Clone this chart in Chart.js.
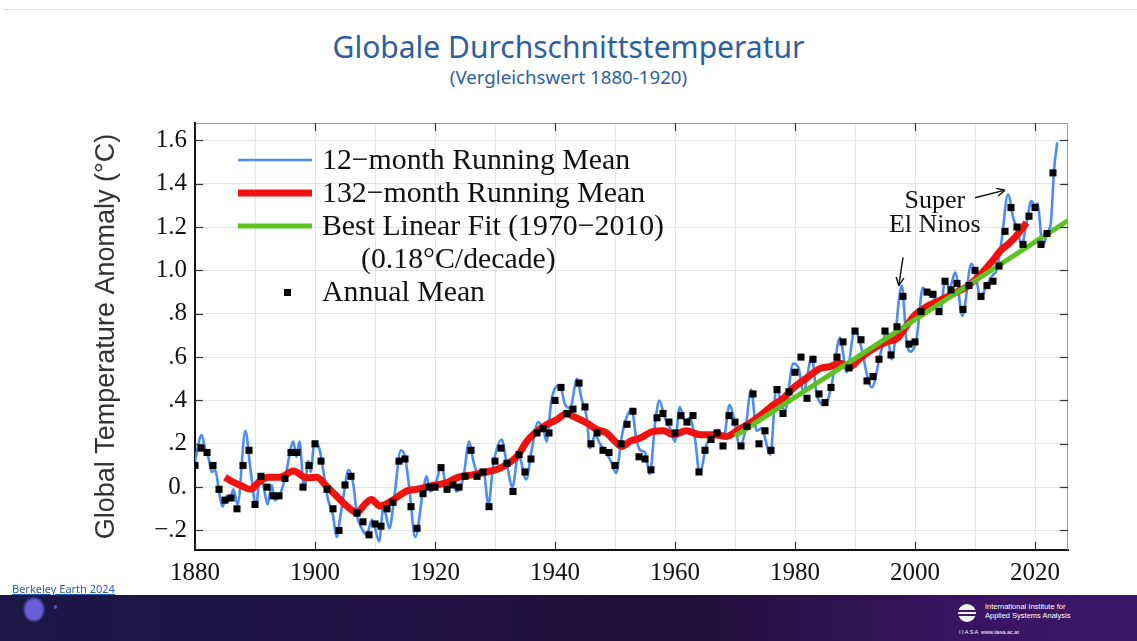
<!DOCTYPE html>
<html>
<head>
<meta charset="utf-8">
<script src="https://cdn.jsdelivr.net/npm/chart.js@4.4.1/dist/chart.umd.min.js"></script>
<style>
  html, body { margin: 0; padding: 0; width: 1137px; height: 641px; overflow: hidden; background: #fff; }
  .topline { position: absolute; left: 3px; right: 0; top: 9px; height: 1px; background: #dcdcdc; }
  .title { position: absolute; left: 0; width: 1137px; text-align: center; color: #2d5e9e; font-family: "Noto Sans", sans-serif; }
  #t1 { top: 27px; font-size: 30px; line-height: 40px; }
  #t2 { top: 65px; font-size: 18.7px; line-height: 24px; }
  #wrap { position: absolute; left: 0; top: 100px; width: 1137px; height: 495px; }
  .src { position: absolute; left: 12px; top: 581px; font-family: "Noto Sans", sans-serif; font-size: 11px; color: #2b5cb3; text-decoration: underline; }
  .band { position: absolute; left: 0; top: 595px; width: 1137px; height: 46px;
    background: linear-gradient(90deg, #1c1745 0%, #211343 35%, #1f1038 60%, #3a1462 85%, #3d1768 100%); overflow: hidden; }
  .dot1 { position: absolute; left: 24px; top: 3px; width: 20px; height: 23px; border-radius: 50%; background: #6a5fd8; filter: blur(1px); }
  .dot2 { position: absolute; left: 54px; top: 10px; width: 3px; height: 4px; border-radius: 50%; background: #5b59c8; }
  .logo { position: absolute; left: 958px; top: 7px; color: #fff; font-family: "Liberation Sans Narrow", "Liberation Sans", sans-serif; }
  .logo .ic { position: absolute; left: 0; top: 2px; width: 18px; height: 18px; border-radius: 50%; background: #f2f2f2; }
  .logo .ic i { position: absolute; left: 0; width: 18px; height: 2px; background: #3a1a60; }
  .logo .tx { position: absolute; left: 27px; top: 0; font-size: 7.5px; line-height: 9px; white-space: nowrap; }
  .logo .sm { position: absolute; left: 1px; top: 27px; font-size: 5.5px; white-space: nowrap; }
</style>
</head>
<body>
<div class="topline"></div>
<div class="title" id="t1">Globale Durchschnittstemperatur</div>
<div class="title" id="t2">(Vergleichswert 1880-1920)</div>
<div id="wrap"><canvas id="chart" width="1137" height="495"></canvas></div>
<div class="src">Berkeley Earth 2024</div>
<div class="band">
  <div class="dot1"></div><div class="dot2"></div>
  <div class="logo">
    <div class="ic"><i style="top:6px"></i><i style="top:10px"></i></div>
    <div class="tx">International Institute for<br>Applied Systems Analysis</div>
    <div class="sm">I I A S A &nbsp;www.iiasa.ac.at</div>
  </div>
</div>
<script>
// annual means, one per year starting 1880
const firstYear = 1880;
const annualMean = [
  0.10, 0.18, 0.16, 0.10, -0.01, -0.06, -0.05, -0.10, 0.10, 0.17,
  -0.08, 0.05, 0.00, -0.04, -0.04, 0.04, 0.16, 0.16, 0.00, 0.10,
  0.20, 0.12, -0.01, -0.10, -0.20, 0.01, 0.05, -0.12, -0.16, -0.22,
  -0.17, -0.18, -0.10, -0.07, 0.12, 0.13, -0.09, -0.19, -0.03, 0.00,
  0.00, 0.09, -0.01, 0.01, 0.00, 0.05, 0.17, 0.05, 0.07, -0.09,
  0.12, 0.18, 0.11, -0.02, 0.15, 0.07, 0.13, 0.25, 0.27, 0.25,
  0.40, 0.46, 0.34, 0.36, 0.48, 0.37, 0.20, 0.25, 0.17, 0.16,
  0.10, 0.20, 0.29, 0.35, 0.14, 0.13, 0.08, 0.32, 0.34, 0.30,
  0.25, 0.33, 0.30, 0.33, 0.07, 0.17, 0.22, 0.25, 0.19, 0.33,
  0.30, 0.19, 0.28, 0.43, 0.20, 0.26, 0.17, 0.45, 0.34, 0.44,
  0.53, 0.60, 0.41, 0.59, 0.43, 0.39, 0.46, 0.60, 0.67, 0.55,
  0.72, 0.68, 0.49, 0.51, 0.59, 0.72, 0.61, 0.74, 0.88, 0.66,
  0.67, 0.81, 0.90, 0.89, 0.81, 0.95, 0.91, 0.94, 0.82, 0.93,
  1.00, 0.88, 0.93, 0.95, 1.02, 1.18, 1.29, 1.20, 1.12, 1.25,
  1.29, 1.12, 1.17, 1.45
];

// 12-month running mean, read at its turning points
const mean12Years = [
  1880.0, 1881.1, 1881.8, 1882.2, 1882.8, 1883.3, 1884.2, 1884.6, 1885.3, 1885.8,
  1886.4, 1887.1, 1888.4, 1889.3, 1890.2, 1890.8, 1891.4, 1892.1, 1892.8, 1893.3,
  1894.2, 1895.0, 1896.4, 1896.9, 1897.4, 1898.2, 1898.9, 1899.3, 1899.9, 1900.8,
  1901.3, 1902.2, 1903.0, 1903.6, 1904.2, 1904.7, 1905.6, 1906.4, 1907.0, 1907.8,
  1908.6, 1909.5, 1910.7, 1911.4, 1912.4, 1913.2, 1914.3, 1915.0, 1915.7, 1916.7,
  1918.1, 1918.6, 1919.2, 1920.0, 1921.1, 1921.9, 1922.8, 1923.6, 1924.7, 1925.7,
  1926.4, 1927.2, 1928.1, 1928.9, 1929.7, 1931.1, 1931.9, 1932.9, 1933.9, 1935.2,
  1936.1, 1937.2, 1938.1, 1938.6, 1939.4, 1940.8, 1941.7, 1942.5, 1943.7, 1944.4,
  1945.3, 1945.8, 1946.7, 1947.5, 1948.3, 1949.3, 1950.2, 1951.1, 1951.9, 1952.8,
  1953.5, 1954.2, 1955.0, 1955.8, 1956.7, 1957.4, 1958.3, 1959.2, 1960.0, 1960.8,
  1961.7, 1962.4, 1963.3, 1964.1, 1965.3, 1966.3, 1967.2, 1968.1, 1969.1, 1969.8,
  1970.8, 1971.7, 1972.7, 1973.6, 1974.4, 1975.9, 1976.9, 1977.8, 1978.3, 1979.7,
  1980.6, 1981.4, 1982.8, 1983.6, 1985.0, 1986.1, 1987.5, 1988.6, 1990.0, 1990.8,
  1992.8, 1994.2, 1995.3, 1996.1, 1997.8, 1998.6, 1999.3, 2000.3, 2001.3, 2002.2,
  2003.3, 2004.2, 2005.0, 2005.8, 2006.7, 2007.9, 2009.4, 2010.3, 2010.9, 2011.9,
  2013.0, 2013.6, 2014.4, 2015.5, 2016.4, 2016.9, 2017.8, 2018.6, 2019.4, 2020.0,
  2020.4, 2021.3, 2022.1, 2022.6, 2023.2, 2023.7
];
const mean12 = [
  0.12, 0.24, 0.165, 0.14, 0.07, 0.08, -0.05, -0.09, -0.04, -0.06,
  -0.01, -0.08, 0.26, 0.07, -0.09, 0.06, 0.01, -0.08, 0.01, -0.06,
  -0.03, 0.04, 0.21, 0.14, 0.21, -0.01, 0.12, 0.07, 0.21, 0.17,
  0.09, -0.06, -0.13, -0.23, -0.14, -0.05, 0.08, 0.01, -0.13, -0.19,
  -0.22, -0.15, -0.25, -0.09, -0.19, -0.05, 0.17, 0.14, 0.00, -0.23,
  0.00, 0.05, -0.02, 0.005, 0.10, 0.00, 0.03, -0.02, 0.04, 0.21,
  0.12, 0.06, 0.07, -0.08, 0.10, 0.22, 0.12, 0.00, 0.15, 0.035,
  0.17, 0.30, 0.26, 0.21, 0.40, 0.47, 0.38, 0.365, 0.50, 0.41,
  0.32, 0.18, 0.24, 0.20, 0.17, 0.12, 0.065, 0.23, 0.32, 0.36,
  0.23, 0.17, 0.16, 0.06, 0.30, 0.40, 0.32, 0.27, 0.21, 0.37,
  0.30, 0.32, 0.23, 0.065, 0.20, 0.23, 0.265, 0.23, 0.38, 0.32,
  0.19, 0.26, 0.45, 0.26, 0.27, 0.15, 0.46, 0.38, 0.35, 0.57,
  0.55, 0.44, 0.60, 0.43, 0.38, 0.47, 0.69, 0.53, 0.73, 0.67,
  0.46, 0.61, 0.72, 0.59, 0.93, 0.67, 0.625, 0.69, 0.92, 0.89,
  0.87, 0.81, 0.95, 0.92, 0.99, 0.79, 1.03, 0.95, 0.87, 0.93,
  0.98, 1.00, 1.13, 1.35, 1.24, 1.20, 1.12, 1.22, 1.32, 1.30,
  1.31, 1.11, 1.18, 1.21, 1.47, 1.59
];

// 132-month running mean
const mean132Years = [
  1885.0, 1886.1, 1887.8, 1889.2, 1890.8, 1892.2, 1894.2, 1896.4, 1898.6, 1900.3,
  1901.9, 1903.6, 1905.3, 1907.0, 1908.3, 1909.4, 1910.8, 1913.1, 1915.3, 1916.9,
  1919.2, 1921.9, 1923.6, 1926.4, 1928.6, 1930.6, 1931.9, 1933.9, 1935.3, 1937.0,
  1938.6, 1940.3, 1941.8, 1943.6, 1945.3, 1947.0, 1948.6, 1950.0, 1951.1, 1952.5,
  1954.2, 1956.4, 1958.1, 1959.7, 1961.9, 1964.2, 1966.4, 1968.6, 1970.3, 1972.5,
  1974.2, 1976.4, 1978.1, 1979.7, 1981.9, 1984.2, 1985.8, 1987.5, 1989.2, 1990.8,
  1993.1, 1995.3, 1997.0, 1998.3, 1999.7, 2001.9, 2004.2, 2006.4, 2008.6, 2010.8,
  2013.0, 2014.2, 2015.5, 2016.9, 2018.6
];
const mean132 = [
  0.046, 0.027, 0.005, -0.010, 0.027, 0.046, 0.046, 0.074, 0.043, 0.046,
  0.005, -0.041, -0.087, -0.117, -0.079, -0.057, -0.087, -0.057, -0.018, -0.010,
  0.005, 0.020, 0.043, 0.058, 0.070, 0.085, 0.104, 0.150, 0.211, 0.257,
  0.288, 0.311, 0.337, 0.319, 0.296, 0.265, 0.250, 0.211, 0.188, 0.211,
  0.227, 0.257, 0.260, 0.242, 0.260, 0.242, 0.242, 0.234, 0.260, 0.296,
  0.330, 0.380, 0.411, 0.457, 0.503, 0.548, 0.556, 0.572, 0.556, 0.594,
  0.640, 0.671, 0.686, 0.732, 0.786, 0.832, 0.863, 0.893, 0.924, 0.978,
  1.047, 1.090, 1.120, 1.160, 1.220
];

// best linear fit 1970-2010, 0.18 C per decade
const fitYears = [1970, 2025.5];
const fitValues = [0.235, 1.23];

const pts = (xs, ys) => xs.map((x, i) => ({ x: x, y: ys[i] }));
const annualPts = annualMean.map((v, i) => ({ x: firstYear + i, y: v }));

const serif = '"Liberation Serif", "Times New Roman", serif';
Chart.defaults.font.family = serif;
Chart.defaults.color = '#111';

const fmtY = v => {
  const r = Math.round(v * 10) / 10;
  if (r === 0) return '0.';
  if (Math.abs(r) >= 1) return r.toFixed(1);
  const s = Math.abs(r).toFixed(1).slice(1);
  return r < 0 ? '\u2212' + s : s;
};

const overlay = {
  id: 'overlay',
  afterDraw(chart) {
    const { ctx, chartArea: a, scales: { x, y } } = chart;
    const ds = chart.data.datasets;
    const line = (x1, y1, x2, y2) => { ctx.beginPath(); ctx.moveTo(x1, y1); ctx.lineTo(x2, y2); ctx.stroke(); };
    ctx.save();

    // top / right frame and inward tick marks
    ctx.strokeStyle = '#9a9a9a'; ctx.lineWidth = 1;
    line(a.left, a.top + 0.5, a.right, a.top + 0.5);
    line(a.right - 0.5, a.top, a.right - 0.5, a.bottom);
    ctx.strokeStyle = '#333'; ctx.lineWidth = 1.2;
    y.ticks.forEach(t => {
      const py = Math.round(y.getPixelForValue(t.value)) + 0.5;
      line(a.left, py, a.left + 8, py);
      line(a.right - 8, py, a.right, py);
    });
    x.ticks.filter(t => t.value % 20 === 0).forEach(t => {
      const px = Math.round(x.getPixelForValue(t.value)) + 0.5;
      line(px, a.bottom, px, a.bottom - 8);
      line(px, a.top, px, a.top + 8);
    });

    // legend
    const lx = a.left + 43, tx = a.left + 127;
    ctx.font = '29.8px ' + serif;
    ctx.fillStyle = '#111';
    ctx.textBaseline = 'middle';
    [[ds[3], 37, '12\u2212month Running Mean'],
     [ds[2], 70, '132\u2212month Running Mean'],
     [ds[1], 103, 'Best Linear Fit (1970\u22122010)']].forEach(([d, dy, label]) => {
      ctx.strokeStyle = d.borderColor; ctx.lineWidth = d.borderWidth;
      line(lx, a.top + dy, lx + 74, a.top + dy);
      ctx.fillText(label, tx, a.top + dy + 1);
    });
    ctx.fillText('(0.18\u00b0C/decade)', a.left + 166, a.top + 137);
    ctx.fillStyle = '#000';
    ctx.fillRect(lx + 46, a.top + 166, 7, 7);
    ctx.fillStyle = '#111';
    ctx.fillText('Annual Mean', tx, a.top + 170);

    // El Nino annotations
    ctx.font = '26px ' + serif;
    ctx.textAlign = 'center';
    ctx.fillText('Super', x.getPixelForValue(2003.3), y.getPixelForValue(1.32));
    ctx.fillText('El Ninos', x.getPixelForValue(2003.3), y.getPixelForValue(1.21));
    const arrow = (x1, y1, x2, y2) => {
      const p1 = [x.getPixelForValue(x1), y.getPixelForValue(y1)];
      const p2 = [x.getPixelForValue(x2), y.getPixelForValue(y2)];
      ctx.strokeStyle = '#111'; ctx.lineWidth = 1.4;
      line(p1[0], p1[1], p2[0], p2[1]);
      const ang = Math.atan2(p2[1] - p1[1], p2[0] - p1[0]);
      [0.45, -0.45].forEach(d => line(p2[0], p2[1], p2[0] - 9 * Math.cos(ang + d), p2[1] - 9 * Math.sin(ang + d)));
    };
    arrow(2010.0, 1.335, 2015.0, 1.37);
    arrow(1998.0, 1.06, 1997.3, 0.93);
    ctx.restore();
  }
};

new Chart(document.getElementById('chart'), {
  type: 'line',
  data: {
    datasets: [
      { type: 'scatter', label: 'Annual Mean', data: annualPts, pointStyle: 'rect',
        pointRadius: 5, pointBackgroundColor: '#000', pointBorderWidth: 0, showLine: false },
      { label: 'Best Linear Fit (1970-2010)', data: pts(fitYears, fitValues),
        borderColor: '#5cc322', borderWidth: 5, pointRadius: 0 },
      { label: '132-month Running Mean', data: pts(mean132Years, mean132),
        borderColor: '#f0120c', borderWidth: 7, pointRadius: 0, cubicInterpolationMode: 'monotone' },
      { label: '12-month Running Mean', data: pts(mean12Years, mean12),
        borderColor: '#4a8cf0', borderWidth: 2.6, pointRadius: 0, cubicInterpolationMode: 'monotone' }
    ]
  },
  options: {
    responsive: false,
    animation: false,
    layout: { padding: { top: 21, right: 69, left: 0, bottom: 0 } },
    plugins: { legend: { display: false }, tooltip: { enabled: false } },
    scales: {
      x: {
        type: 'linear', min: 1880, max: 2025.5,
        afterFit: s => { s.height = 45; },
        grid: { color: '#e4e4e4', drawTicks: false },
        border: { color: '#111', width: 2 },
        ticks: { stepSize: 10, includeBounds: false, padding: 8, font: { size: 25 },
          callback: v => (v % 20 === 0 ? String(v) : '') }
      },
      y: {
        min: -0.29, max: 1.68,
        afterFit: s => { s.width = 195; },
        grid: { color: '#e4e4e4', drawTicks: false },
        border: { color: '#111', width: 2 },
        ticks: { stepSize: 0.2, includeBounds: false, padding: 8, font: { size: 25 }, callback: fmtY },
        title: { display: true, text: 'Global Temperature Anomaly (\u00b0C)', color: '#333',
          font: { family: '"Liberation Sans", Arial, sans-serif', size: 27 },
          padding: { top: 90, bottom: 0 } }
      }
    }
  },
  plugins: [overlay]
});
</script>
</body>
</html>
